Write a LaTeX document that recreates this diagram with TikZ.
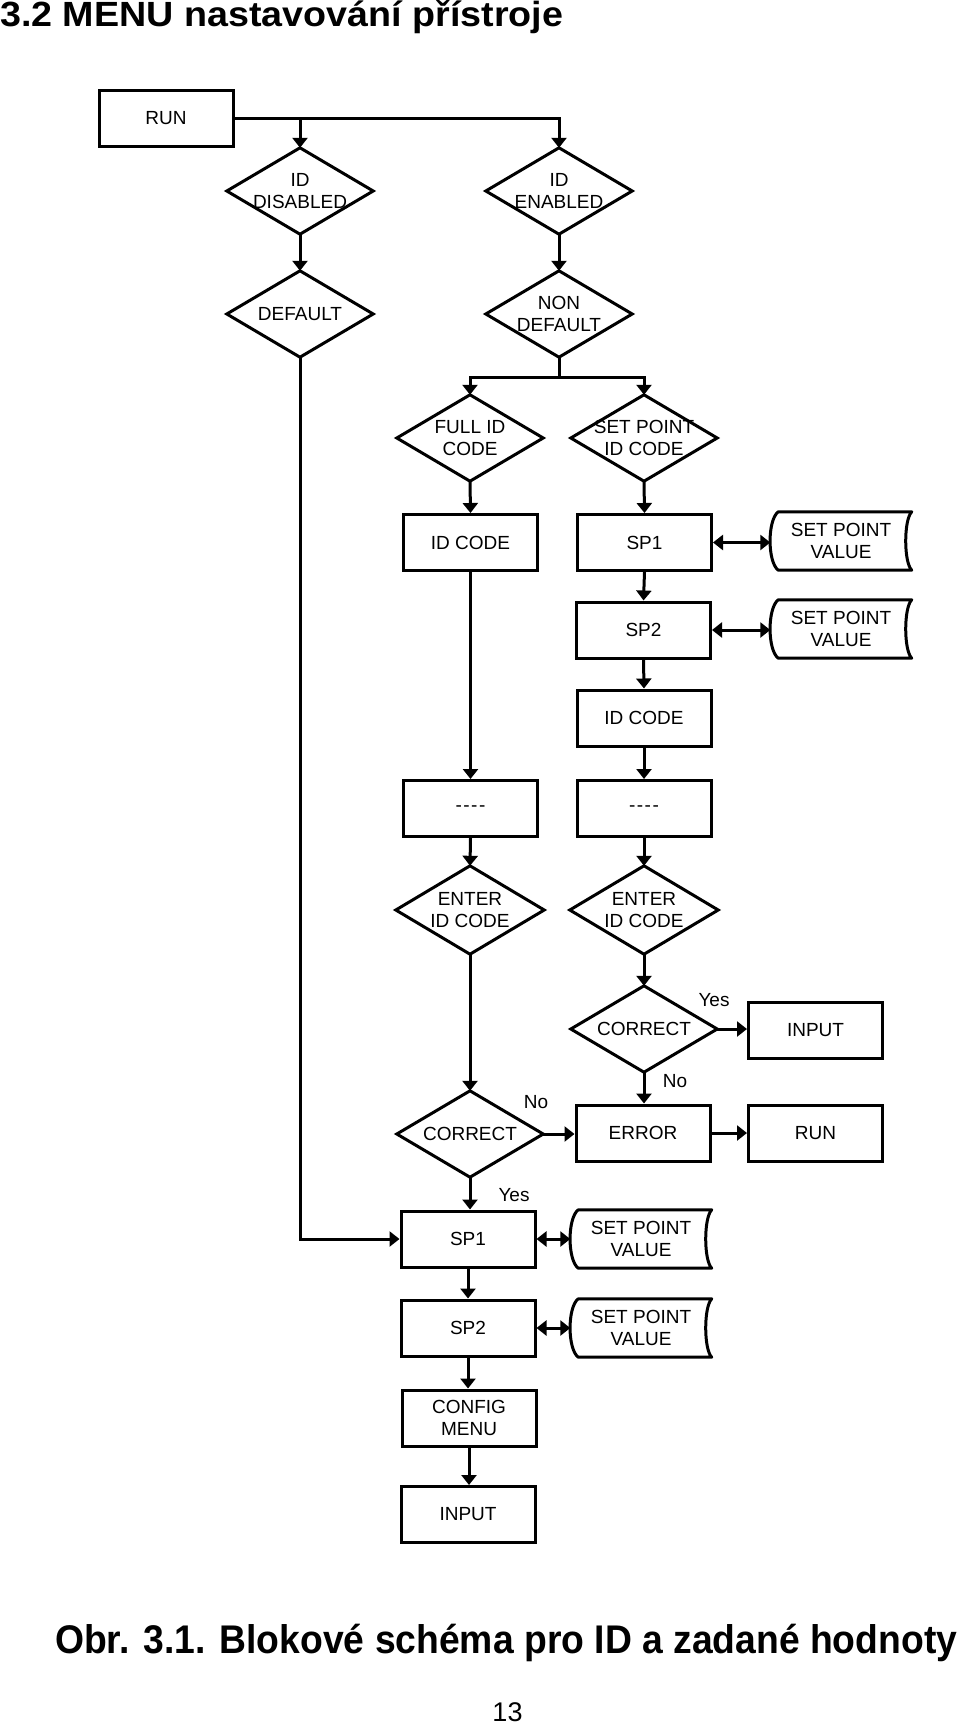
\documentclass[tikz,border=0pt]{standalone}
\usepackage{fontspec}
\setmainfont{Liberation Sans}
\usepackage{graphicx}
\usetikzlibrary{arrows.meta}
\newcommand\bxf{\fontsize{19}{22}\selectfont}
\newcommand\dshape[1]{\draw[lw, line join=miter] (#1.north) -- (#1.east) -- (#1.south) -- (#1.west) -- cycle;}
\newcommand\spvshape[1]{\draw[lw, line join=round] ([xshift=8pt]#1.north west) -- (#1.north east) .. controls ([shift={(-8pt,-8pt)}]#1.north east) and ([shift={(-8pt,8pt)}]#1.south east) .. (#1.south east) -- ([xshift=8pt]#1.south west) .. controls ([shift={(-3pt,8pt)}]#1.south west) and ([shift={(-3pt,-8pt)}]#1.north west) .. ([xshift=8pt]#1.north west) -- cycle;}
\tikzset{
  lw/.style={line width=3pt},
  box/.style={draw, line width=3pt, minimum width=134pt, minimum height=56pt, inner sep=0pt, align=center, font=\bxf},
  dtext/.style={minimum width=146pt, minimum height=86pt, inner sep=0pt, align=center, font=\bxf},
  spvtext/.style={minimum width=141pt, minimum height=58pt, inner sep=0pt, align=center, font=\bxf},
  arr/.style={line width=3pt, -{Triangle[length=10pt,width=15pt]}},
  darr/.style={line width=3pt, {Triangle[length=10pt,width=15pt]}-{Triangle[length=10pt,width=15pt]}},
  lbl/.style={font=\bxf, inner sep=0pt},
}
\begin{document}
\begin{tikzpicture}[x=1pt,y=-1pt]
\useasboundingbox (0,0) rectangle (960,1728);
\fill[white] (0,0) rectangle (960,1728);

% title
\node[anchor=base west, inner sep=0pt] (title) at (0,27) {\fontsize{35}{40}\selectfont\bfseries\resizebox{563pt}{\height}{3.2 MENU nastavování přístroje}};

% top part
\node[box] (run1) at (166,118.5) {RUN};
\node[dtext] (iddis) at (300,191) {ID\\DISABLED}; \dshape{iddis}
\node[dtext] (iden) at (559,191) {ID\\ENABLED}; \dshape{iden}
\node[dtext] (def) at (300,314) {DEFAULT}; \dshape{def}
\node[dtext] (nondef) at (559,314) {NON\\DEFAULT}; \dshape{nondef}
\node[dtext] (fullid) at (470,438) {FULL ID\\CODE}; \dshape{fullid}
\node[dtext] (spid) at (644,438) {SET POINT\\ID CODE}; \dshape{spid}

\node[box] (idc1) at (470.5,542.5) {ID CODE};
\node[box] (sp1a) at (644.5,542.5) {SP1};
\node[spvtext] (spv1) at (841,541) {SET POINT\\VALUE}; \spvshape{spv1}
\node[box] (sp2a) at (643.5,630) {SP2};
\node[spvtext] (spv2) at (841,629) {SET POINT\\VALUE}; \spvshape{spv2}
\node[box] (idc2) at (644,718) {ID CODE};

\node[box] (dash1) at (470.5,808.5) {{-}\kern1.5pt{-}\kern1.5pt{-}\kern1.5pt{-}};
\node[box] (dash2) at (644,808.5) {{-}\kern1.5pt{-}\kern1.5pt{-}\kern1.5pt{-}};
\node[dtext, minimum width=148pt, minimum height=88pt] (enter1) at (470,910) {ENTER\\ID CODE}; \dshape{enter1}
\node[dtext, minimum width=148pt, minimum height=88pt] (enter2) at (644,910) {ENTER\\ID CODE}; \dshape{enter2}

\node[dtext] (corr2) at (644,1029) {CORRECT}; \dshape{corr2}
\node[box] (input1) at (815.5,1030) {INPUT};
\node[box] (error) at (643,1133) {ERROR};
\node[box] (run2) at (815.5,1133) {RUN};
\node[dtext] (corr1) at (470,1134) {CORRECT}; \dshape{corr1}

\node[box] (sp1b) at (468,1239) {SP1};
\node[spvtext] (spv3) at (641,1239) {SET POINT\\VALUE}; \spvshape{spv3}
\node[box] (sp2b) at (468,1328) {SP2};
\node[spvtext] (spv4) at (641,1328) {SET POINT\\VALUE}; \spvshape{spv4}
\node[box] (config) at (469,1418) {CONFIG\\MENU};
\node[box] (input2) at (468,1514.5) {INPUT};

% labels
\node[lbl] (yes1) at (714,1000) {Yes};
\node[lbl] (no1) at (675,1081) {No};
\node[lbl] (no2) at (536,1102) {No};
\node[lbl] (yes2) at (514,1195) {Yes};

% connectors
\draw[arr] (run1.east) -| (iden.north);
\draw[arr] (run1.east -| iddis.north) -- (iddis.north);
\draw[arr] (iddis.south) -- (def.north);
\draw[arr] (iden.south) -- (nondef.north);
\draw[arr] (def.south) |- (sp1b.west);
\coordinate (bar) at (559,377);
\draw[lw] (nondef.south) -- (bar);
\draw[arr] (bar) -| (fullid.north);
\draw[arr] (bar) -| (spid.north);
\draw[arr] (fullid.south) -- (idc1.north);
\draw[arr] (spid.south) -- (sp1a.north);
\draw[darr] (sp1a.east) -- (spv1.west |- sp1a.east);
\draw[arr] (sp1a.south) -- (sp2a.north);
\draw[darr] (sp2a.east) -- (spv2.west |- sp2a.east);
\draw[arr] (sp2a.south) -- (idc2.north);
\draw[arr] (idc1.south) -- (dash1.north);
\draw[arr] (idc2.south) -- (dash2.north);
\draw[arr] (dash1.south) -- (enter1.north);
\draw[arr] (dash2.south) -- (enter2.north);
\draw[arr] (enter2.south) -- (corr2.north);
\draw[arr] (corr2.east) -- (input1.west |- corr2.east);
\draw[arr] (corr2.south) -- (error.north -| corr2.south);
\draw[arr] (enter1.south) -- (corr1.north);
\draw[arr] (corr1.east) -- (error.west |- corr1.east);
\draw[arr] (error.east) -- (run2.west);
\draw[arr] (corr1.south) -- (sp1b.north -| corr1.south);
\draw[darr] (sp1b.east) -- (spv3.west |- sp1b.east);
\draw[arr] (sp1b.south) -- (sp2b.north);
\draw[darr] (sp2b.east) -- (spv4.west |- sp2b.east);
\draw[arr] (sp2b.south) -- (config.north -| sp2b.south);
\draw[arr] (config.south) -- (input2.north -| config.south);

% caption
\node[anchor=base west, inner sep=0pt] (caption) at (55,1653) {\fontsize{40}{44}\selectfont\bfseries\resizebox{902pt}{\height}{Obr. 3.1. Blokové schéma pro ID a zadané hodnoty}};
\node[anchor=base, inner sep=0pt] (pagenum) at (507.5,1721) {\fontsize{27}{30}\selectfont 13};
\end{tikzpicture}
\end{document}
